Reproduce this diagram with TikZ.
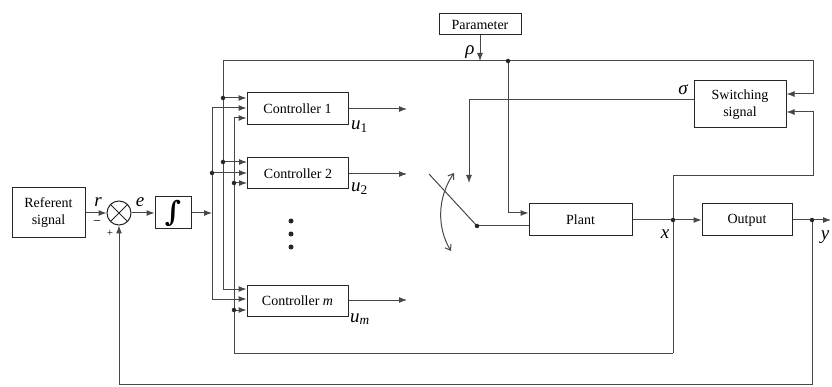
\documentclass[tikz,border=0pt]{standalone}
\usepackage{fontspec}
\setmainfont{Liberation Serif}
\newfontfamily\intfont{DejaVu Serif}
\usetikzlibrary{arrows.meta,calc}
\begin{document}
\begin{tikzpicture}[x=1pt,y=-1pt,
  blk/.style={draw=black!85, line width=1pt, rectangle, inner sep=0pt, font=\fontsize{14}{17}\selectfont, align=center},
  wire/.style={draw=black!72, line width=1pt},
  arr/.style={wire, -{Latex[length=8pt,width=6pt]}},
  jdot/.style={circle, fill=black!85, inner sep=0pt, minimum size=4.5pt},
  lbl/.style={font=\fontsize{19}{19}\selectfont\itshape, inner sep=0pt},
  sml/.style={font=\fontsize{14}{14}\selectfont, inner sep=0pt}]
\useasboundingbox (0,0) rectangle (832,387);
% blocks
\node[blk, minimum width=73pt, minimum height=50pt] (ref) at (48.5,213) {Referent\\signal};
\node[draw=black!85, line width=1pt, circle, minimum size=24pt, inner sep=0pt] (sum) at (119,213) {};
\draw[black!85, line width=1pt] (sum.north west) -- (sum.south east) (sum.north east) -- (sum.south west);
\node[blk, minimum width=36pt, minimum height=32pt] (int) at (173,213) {\intfont\bfseries\fontsize{28}{28}\selectfont ∫};
\node[blk, minimum width=101pt, minimum height=32pt] (c1) at (297.5,109) {Controller 1};
\node[blk, minimum width=101pt, minimum height=31pt] (c2) at (298,173.5) {Controller 2};
\node[blk, minimum width=101pt, minimum height=31pt] (cm) at (297.5,300.5) {Controller \textit{m}};
\node[blk, minimum width=82pt, minimum height=21pt] (param) at (480,24.5) {Parameter};
\node[blk, minimum width=92pt, minimum height=47pt] (sw) at (740,104.5) {Switching\\signal};
\node[blk, minimum width=103pt, minimum height=32pt] (plant) at (580.5,220) {Plant};
\node[blk, minimum width=90pt, minimum height=32pt] (out) at (747,220) {Output};
% coordinates
\coordinate (bA1) at (212,108); \coordinate (bA2) at (212,173); \coordinate (bA3) at (212,299); \coordinate (bAin) at (212,213);
\coordinate (bB0) at (223,61); \coordinate (bB1) at (223,98); \coordinate (bB2) at (223,162); \coordinate (bB3) at (223,289);
\coordinate (bC1) at (234,118); \coordinate (bC2) at (234,183); \coordinate (bC3) at (234,310); \coordinate (bC4) at (234,353);
\coordinate (topR) at (813,61); \coordinate (sw1) at (813,94); \coordinate (pJ) at (508,61); \coordinate (pIn) at (508,213);
\coordinate (xJ) at (673,220); \coordinate (xTop) at (673,176); \coordinate (swR2) at (813,176); \coordinate (sw2) at (813,112); \coordinate (xBot) at (673,353);
\coordinate (yJ) at (812,220); \coordinate (yEnd) at (831,220); \coordinate (fbR) at (812,384); \coordinate (fbL) at (119,384);
\coordinate (pivot) at (477,226); \coordinate (blade) at (429,174); \coordinate (swArrL) at (469,100); \coordinate (swTip) at (469,183);
\coordinate (cvA) at (451,251); \coordinate (cvB) at (454,173);
\coordinate (o1) at (407,109); \coordinate (o2) at (407,174); \coordinate (om) at (407,300);
% main path
\draw[arr] (ref.east) -- (sum.west);
\draw[arr] (sum.east) -- (int.west);
\draw[arr] (int.east) -- (bAin);
% bus A
\draw[wire] (bA1) -- (bA3);
\draw[arr] (bA1) -- (bA1 -| c1.west);
\draw[arr] (bA2) -- (bA2 -| c2.west);
\draw[arr] (bA3) -- (bA3 -| cm.west);
% bus B (top line)
\draw[wire] (bB3) -- (bB0);
\draw[arr] (bB0) -- (topR) -- (sw1) -- (sw1 -| sw.east);
\draw[arr] (bB1) -- (bB1 -| c1.west);
\draw[arr] (bB2) -- (bB2 -| c2.west);
\draw[arr] (bB3) -- (bB3 -| cm.west);
% bus C (state feedback)
\draw[wire] (xBot) -- (bC4) -- (bC1);
\draw[arr] (bC1) -- (bC1 -| c1.west);
\draw[arr] (bC2) -- (bC2 -| c2.west);
\draw[arr] (bC3) -- (bC3 -| cm.west);
% controller outputs
\draw[arr] (c1.east |- o1) -- (o1);
\draw[arr] (c2.east |- o2) -- (o2);
\draw[arr] (cm.east |- om) -- (om);
% parameter
\draw[arr] (param.south) -- (param.south |- pJ);
\draw[arr] (pJ) -- (pIn) -- (pIn -| plant.west);
% switching
\draw[arr] (sw.west |- swArrL) -- (swArrL) -- (swTip);
\draw[wire] (blade) -- (pivot);
\draw[wire] (pivot) -- (pivot -| plant.west);
\draw[wire, {Straight Barb[length=5pt,width=7pt]}-{Straight Barb[length=5pt,width=7pt]}] (cvA) .. controls (437,228) and (437,198) .. (cvB);
% plant / output
\draw[wire] (plant.east) -- (xJ);
\draw[arr] (xJ) -- (out.west);
\draw[arr] (xBot) -- (xTop) -- (swR2) -- (sw2) -- (sw2 -| sw.east);
\draw[wire] (out.east) -- (yJ);
\draw[arr] (yJ) -- (yEnd);
\draw[arr] (yJ) -- (fbR) -- (fbL) -- (sum.south);
% dots
\node[jdot] (d1) at (bA2) {};
\node[jdot] (d2) at (bB1) {};
\node[jdot] (d3) at (bB2) {};
\node[jdot] (d4) at (bC2) {};
\node[jdot] (d5) at (bC3) {};
\node[jdot] (d6) at (pJ) {};
\node[jdot] (d7) at (xJ) {};
\node[jdot] (d8) at (yJ) {};
\node[jdot] (d9) at (pivot) {};
\node[jdot, minimum size=5pt] (v1) at (291,221) {};
\node[jdot, minimum size=5pt] (v2) at (291,234) {};
\node[jdot, minimum size=5pt] (v3) at (291,247) {};
% labels
\node[lbl, anchor=base] (lr) at (98,207) {r};
\node[lbl, anchor=base] (le) at (140,207) {e};
\node[sml] (lminus) at (97,223) {−};
\node[font=\fontsize{11}{11}\selectfont, inner sep=0pt] (lplus) at (110,233) {+};
\node[lbl, anchor=base] (lrho) at (470,55) {ρ};
\node[lbl, anchor=base] (lsig) at (683,95) {σ};
\node[lbl, anchor=base] (lx) at (665,239) {x};
\node[lbl, anchor=base] (ly) at (825,240) {y};
\node[lbl, anchor=base west] (lu1) at (351,130) {u\textsubscript{\upshape 1}};
\node[lbl, anchor=base west] (lu2) at (351,192) {u\textsubscript{\upshape 2}};
\node[lbl, anchor=base west] (lum) at (350,322) {u\textsubscript{m}};
\end{tikzpicture}
\end{document}
